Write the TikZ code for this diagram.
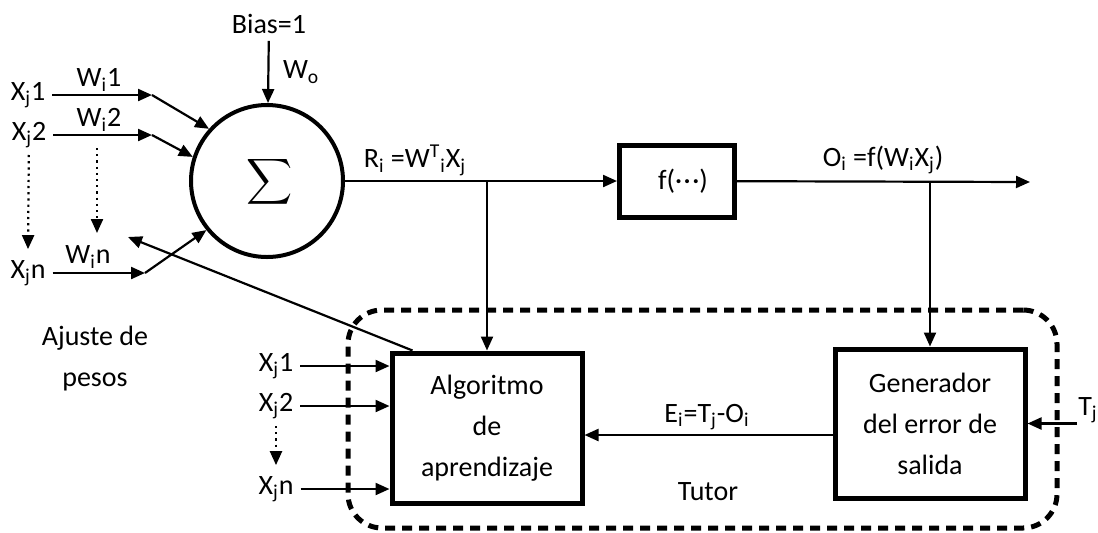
\documentclass[tikz,border=0pt]{standalone}
\usepackage{fontspec}
\setmainfont{Carlito}
\usetikzlibrary{arrows.meta}
\newcommand{\sub}[1]{\textsubscript{#1}}
\begin{document}
\begin{tikzpicture}[x=0.5pt,y=-0.5pt,
  font=\fontsize{14}{20.5}\selectfont,
  arr/.style={-{Triangle[length=7pt,width=6pt]}, line width=1.1pt},
  dotarr/.style={-{Triangle[length=7pt,width=6pt]}, line width=1.1pt, dotted},
  blk/.style={draw, line width=2.5pt, align=center, inner sep=0pt}]
\useasboundingbox (0,0) rectangle (1098,532);
% tutor frame
\node[draw, line width=2.5pt, dash pattern=on 5pt off 3.5pt, rounded corners=17pt, minimum width=354.5pt, minimum height=109pt] (tut) at (702.5,419) {};
\node (tutl) at (708,492) {Tutor};
% neuron
\node[draw, circle, line width=2pt, minimum size=76pt] (sum) at (267,181) {};
\node at (270,182) {\scalebox{1.6}{$\displaystyle\sum$}};
\node[blk, minimum width=57.5pt, minimum height=36pt] (f) at (677,181) {\hspace{6pt}f(\textperiodcentered\kern0.8pt\textperiodcentered\kern0.8pt\textperiodcentered)};
\node[blk, minimum width=95pt, minimum height=75pt] (alg) at (487,428) {Algoritmo\\de\\aprendizaje};
\node[blk, minimum width=95pt, minimum height=74.5pt] (gen) at (930,423.5) {Generador\\del error de\\salida};
% inputs
\node (bias) at (269,24) {Bias=1};
\node[anchor=west] (wo) at (276,72) {W\sub{o}};
\node (xj1) at (28,95) {X\sub{j}1};
\node (xj2) at (29,135) {X\sub{j}2};
\node (xjn) at (28,273) {X\sub{j}n};
\node (wi1) at (99,80) {W\sub{i}1};
\node (wi2) at (99,120) {W\sub{i}2};
\node (win) at (88,257) {W\sub{i}n};
\coordinate (w1) at (152,95);
\coordinate (w2) at (152,135);
\coordinate (wn) at (145,273);
\coordinate (d1) at (97,148);
\coordinate (d2) at (97,233);
\coordinate (adj) at (128,237);
\node[align=center] (ajus) at (95,359) {Ajuste de\\pesos};
\draw[arr] (bias) -- (sum);
\draw[arr] (xj1) -- (w1);
\draw[arr] (xj2) -- (w2);
\draw[arr] (xjn) -- (wn);
\draw[arr] (w1) -- (sum.138);
\draw[arr] (w2) -- (sum.162);
\draw[arr] (wn) -- (sum.219);
\draw[dotarr] (xj2) -- ([yshift=2pt]xjn.north);
\draw[dotarr] (d1) -- (d2);
\draw[arr] ([xshift=11.5pt]alg.north west) -- (adj);
% outputs
\coordinate (rj) at (487,182);
\coordinate (oj) at (930,182);
\coordinate (out) at (1030,182);
\node (ri) at (415,160) {R\sub{i} =W\textsuperscript{T}\sub{i}X\sub{j}};
\node (oi) at (883,160) {O\sub{i} =f(W\sub{i}X\sub{j})};
\draw[arr] (sum) -- (f);
\draw[arr] (rj) -- (alg);
\draw[arr] (f) -- (out);
\draw[arr] (oj) -- (gen);
% tutor inputs
\node (xa1) at (276,366) {X\sub{j}1};
\node (xa2) at (276,406) {X\sub{j}2};
\node (xan) at (276,489) {X\sub{j}n};
\draw[arr] (xa1) -- (xa1 -| alg.west);
\draw[arr] (xa2) -- (xa2 -| alg.west);
\draw[arr] (xan) -- (xan -| alg.west);
\draw[dotarr] (xa2) -- ([yshift=2pt]xan.north);
\node (ei) at (707,417) {E\sub{i}=T\sub{j}-O\sub{i}};
\draw[arr] (gen.west |- 0,435) -- (alg.east |- 0,435);
\coordinate (tj) at (1077,423.5);
\node (tjl) at (1088,410) {T\sub{j}};
\draw[arr] (tj) -- (gen);
\end{tikzpicture}
\end{document}
